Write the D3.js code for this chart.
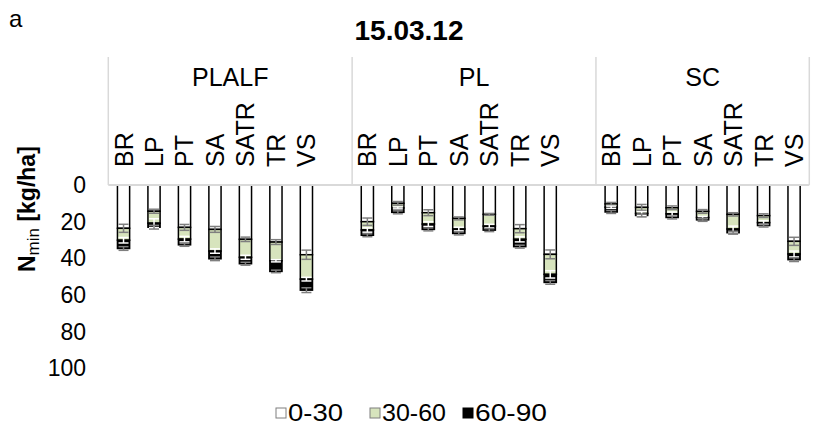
<!DOCTYPE html>
<html>
<head>
<meta charset="utf-8">
<script src="https://cdn.jsdelivr.net/npm/d3@7"></script>
<style>
  html, body { margin: 0; padding: 0; background: #fff; }
  svg { display: block; font-family: "Liberation Sans", Arial, sans-serif; }
</style>
</head>
<body>
<svg id="chart" width="818" height="430"></svg>
<script>
// ---- data ----
const groups = ["PLALF", "PL", "SC"];
const categories = ["BR", "LP", "PT", "SA", "SATR", "TR", "VS"];
const seriesNames = ["0-30", "30-60", "60-90"];
const yTicks = [0, 20, 40, 60, 80, 100];

// N_min per soil layer (kg/ha), group-major order: PLALF, PL, SC
const layer0_30 = [
  23.6, 14.3, 23.1, 24.2, 29.6, 31.1, 38.0,
  20.0, 10.0, 15.1, 18.2, 16.0, 23.8, 37.8,
  10.3, 12.2, 12.4, 14.4, 16.0, 16.7, 30.7
];
const layer30_60 = [
  6.5, 6.5, 6.4, 11.8, 9.8, 10.2, 13.3,
  4.5, 2.5, 6.2, 5.8, 6.4, 5.8, 10.9,
  1.8, 3.3, 3.3, 3.3, 8.0, 3.8, 6.9
];
const layer60_90 = [
  4.5, 2.2, 3.1, 4.2, 3.5, 5.8, 6.0,
  2.9, 2.4, 2.9, 2.4, 2.2, 4.0, 4.4,
  2.6, 1.1, 2.0, 1.3, 2.0, 1.6, 3.1
];
// error bar half-lengths per layer
const err0_30 = [
  2.2, 1.1, 1.6, 1.6, 1.2, 1.3, 2.5,
  2.0, 1.0, 1.6, 0.8, 0.5, 2.2, 2.4,
  0.8, 1.6, 1.0, 1.0, 0.9, 1.0, 2.2
];
const err30_60 = [
  1.5, 2.4, 1.5, 1.2, 1.1, 0.6, 1.0,
  1.2, 0.5, 1.3, 1.0, 1.0, 1.4, 2.0,
  0.6, 1.0, 1.0, 0.6, 1.6, 1.0, 1.6
];
const err60_90 = [
  1.0, 1.0, 0.8, 1.0, 0.8, 0.7, 1.3,
  0.8, 0.8, 0.8, 0.8, 0.8, 0.8, 1.0,
  0.8, 0.8, 0.8, 0.8, 0.8, 0.8, 1.0
];

const fills = ["#ffffff", "#d7e4bd", "#000000"];
const errColors = ["#7f7f7f", "#ffffff", "#7f7f7f"];

// ---- layout ----
const svg = d3.select("#chart");
const left = 108.3, right = 809.3, axisY = 185, headerTop = 57;

// slot domain: categories per group with an empty slot between groups
const slots = [];
groups.forEach((g, gi) => {
  categories.forEach(c => slots.push(g + "|" + c));
  if (gi < groups.length - 1) slots.push(g + "|_gap");
});
const x = d3.scaleBand().domain(slots).range([left, right]).paddingInner(0.6).paddingOuter(0.3);
const y = d3.scaleLinear().domain([0, 100]).range([axisY, 368.5]);

// rows
const rows = [];
groups.forEach((g, gi) => categories.forEach((c, ci) => {
  const i = gi * categories.length + ci;
  rows.push({ key: g + "|" + c, g, c, vals: [layer0_30[i], layer30_60[i], layer60_90[i]], errs: [err0_30[i], err30_60[i], err60_90[i]] });
}));

// ---- header frame ----
const frame = svg.append("g").attr("stroke", "#d9d9d9").attr("stroke-width", 1.5);
const groupBounds = groups.map((g, gi) => {
  const first = x(g + "|" + categories[0]) - x.step() * 0.3;
  const last = gi < groups.length - 1 ? x(g + "|_gap") + x.bandwidth() + x.step() * 0.3 : right;
  return [first, last];
});
const vlines = [left, ...groupBounds.slice(0, -1).map(b => b[1]), right];
vlines.forEach(vx => frame.append("line").attr("x1", vx).attr("x2", vx).attr("y1", headerTop).attr("y2", axisY));

// group labels
groups.forEach((g, gi) => {
  const [a, b] = groupBounds[gi];
  svg.append("text").attr("x", (a + b) / 2).attr("y", 86)
    .attr("text-anchor", "middle").attr("font-size", 25).attr("fill", "#000").text(g);
});

// category labels (rotated)
rows.forEach(r => {
  const cx = x(r.key) + x.bandwidth() / 2;
  svg.append("text")
    .attr("transform", `translate(${cx + 9},167) rotate(-90)`)
    .attr("font-size", 25).attr("fill", "#000").text(r.c);
});

// ---- bars ----
const barG = svg.append("g");
rows.forEach(r => {
  let cum = 0;
  r.vals.forEach((v, si) => {
    barG.append("rect")
      .attr("x", x(r.key)).attr("width", x.bandwidth())
      .attr("y", y(cum)).attr("height", y(cum + v) - y(cum))
      .attr("fill", fills[si]).attr("stroke", "#000").attr("stroke-width", 1.5);
    cum += v;
  });
});

// ---- error bars ----
const errG = svg.append("g").attr("stroke-width", 1.5);
rows.forEach(r => {
  const cx = x(r.key) + x.bandwidth() / 2;
  let cum = 0;
  r.vals.forEach((v, si) => {
    cum += v;
    const e = r.errs[si];
    const col = errColors[si];
    const y1 = y(cum - e), y2 = y(cum + e);
    errG.append("line").attr("x1", cx).attr("x2", cx).attr("y1", y1).attr("y2", y2).attr("stroke", col);
    [y1, y2].forEach(yy => errG.append("line").attr("x1", cx - 5).attr("x2", cx + 5).attr("y1", yy).attr("y2", yy).attr("stroke", col));
  });
});

// axis baseline (frame bottom)
svg.append("line").attr("x1", left).attr("x2", right).attr("y1", axisY).attr("y2", axisY)
  .attr("stroke", "#d9d9d9").attr("stroke-width", 2);

// ---- y axis labels ----
const yAxis = d3.axisLeft(y).tickValues(yTicks).tickSize(0).tickPadding(0);
const yG = svg.append("g").attr("transform", "translate(86,0)").call(yAxis);
yG.select(".domain").remove();
yG.selectAll("text").attr("font-size", 23).attr("fill", "#000")
  .attr("font-family", "Liberation Sans, Arial, sans-serif");

// y axis title
const yt = svg.append("text")
  .attr("transform", "translate(35,272) rotate(-90)")
  .attr("text-anchor", "start").attr("font-size", 23).attr("font-weight", "bold").attr("fill", "#000");
yt.append("tspan").text("N");
yt.append("tspan").attr("font-size", 17).attr("font-weight", "normal").attr("dy", 4).text("min");
yt.append("tspan").attr("dy", -4).text(" [kg/ha]");

// ---- titles ----
svg.append("text").attr("x", 409).attr("y", 40).attr("text-anchor", "middle")
  .attr("font-size", 28).attr("font-weight", "bold").attr("fill", "#000").text("15.03.12");
svg.append("text").attr("x", 9).attr("y", 27).attr("font-size", 24).attr("fill", "#000").text("a");

// ---- legend ----
const legX = [276, 370, 463];
const legW = [55, 64, 72];
const leg = svg.append("g");
seriesNames.forEach((s, i) => {
  leg.append("rect").attr("x", legX[i]).attr("y", 408).attr("width", 10).attr("height", 10)
    .attr("fill", fills[i]).attr("stroke", i === 2 ? "#000" : "#7f7f7f").attr("stroke-width", 1);
  leg.append("text").attr("x", legX[i] + 12).attr("y", 421).attr("font-size", 24).attr("fill", "#000")
    .attr("textLength", legW[i]).attr("lengthAdjust", "spacingAndGlyphs").text(s);
});
</script>
</body>
</html>
